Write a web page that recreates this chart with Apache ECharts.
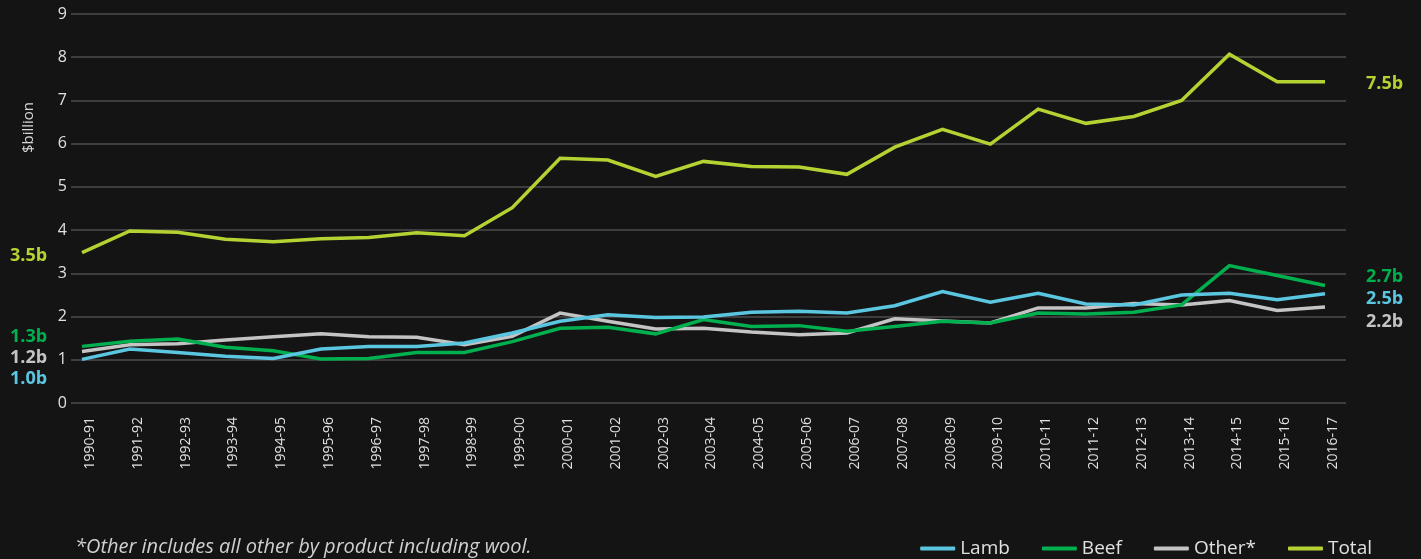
<!DOCTYPE html>
<html><head><meta charset="utf-8">
<script src="https://cdn.jsdelivr.net/npm/echarts@6/dist/echarts.min.js"></script>
<style>html,body{margin:0;padding:0;background:#141414;}#c{width:1421px;height:559px;}</style>
</head><body><div id="c"></div>
<script>
const categories = ['1990-91','1991-92','1992-93','1993-94','1994-95','1995-96','1996-97','1997-98','1998-99','1999-00','2000-01','2001-02','2002-03','2003-04','2004-05','2005-06','2006-07','2007-08','2008-09','2009-10','2010-11','2011-12','2012-13','2013-14','2014-15','2015-16','2016-17'];
const lamb  = [1.01,1.25,1.17,1.08,1.03,1.25,1.31,1.31,1.39,1.62,1.89,2.04,1.98,1.99,2.10,2.12,2.08,2.25,2.58,2.33,2.54,2.29,2.27,2.50,2.54,2.39,2.53];
const beef  = [1.31,1.43,1.48,1.29,1.21,1.02,1.03,1.17,1.17,1.42,1.73,1.75,1.60,1.93,1.77,1.79,1.66,1.77,1.89,1.85,2.08,2.06,2.10,2.27,3.18,2.95,2.72];
const other = [1.19,1.35,1.37,1.46,1.53,1.60,1.53,1.52,1.35,1.54,2.08,1.89,1.71,1.73,1.64,1.58,1.62,1.95,1.90,1.85,2.20,2.20,2.30,2.27,2.37,2.14,2.22];
const total = [3.48,3.98,3.95,3.79,3.73,3.80,3.83,3.94,3.87,4.52,5.66,5.62,5.24,5.59,5.47,5.46,5.29,5.92,6.33,5.99,6.80,6.47,6.63,7.00,8.07,7.43,7.43];
const yTicks = [0,1,2,3,4,5,6,7,8,9];
const startLabels = [{t:'3.5b',c:'#b5d233',y:254},{t:'1.3b',c:'#00b04f',y:335},{t:'1.2b',c:'#c4c4c4',y:356},{t:'1.0b',c:'#5bc6e0',y:377}];
const endLabels = [{t:'7.5b',c:'#b5d233',y:82},{t:'2.7b',c:'#00b04f',y:275},{t:'2.5b',c:'#5bc6e0',y:297},{t:'2.2b',c:'#c4c4c4',y:320}];

const FONT = '"Open Sans", sans-serif';
const colors = {Lamb:'#5bc6e0', Beef:'#00b04f', 'Other*':'#c4c4c4', Total:'#b5d233'};
const chart = echarts.init(document.getElementById('c'));
function line(name, data){
  return {name, type:'line', data, xAxisIndex:0, yAxisIndex:0, symbol:'none',
    lineStyle:{width:3.5, color:colors[name], cap:'butt', join:'miter'}, itemStyle:{color:colors[name]}};
}
const graphics = [];
startLabels.forEach(l=>graphics.push({type:'text', left:10, top:l.y-7, style:{text:l.t, fill:l.c, font:'bold 18px '+FONT}}));
endLabels.forEach(l=>graphics.push({type:'text', left:1366, top:l.y-7, style:{text:l.t, fill:l.c, font:'bold 18px '+FONT}}));
graphics.push({type:'text', left:21, top:102, rotation:Math.PI/2, style:{text:'$billion', fill:'#d8d8d8', font:'15px '+FONT}});
graphics.push({type:'text', left:75, top:537, style:{text:'*Other includes all other by product including wool.', fill:'#d0d0d0', font:'italic 20px '+FONT}});

chart.setOption({
  backgroundColor:'#141414',
  animation:false,
  grid:[{left:82, right:96, top:14, bottom:156},{left:71, right:75, top:14, bottom:156}],
  xAxis:[
    {type:'category', gridIndex:0, data:categories, boundaryGap:false,
     axisLine:{show:false}, axisTick:{show:false}, splitLine:{show:false},
     axisLabel:{rotate:90, interval:0, margin:14, color:'#e0e0e0', fontSize:14, fontFamily:FONT,
       verticalAlign:'top', lineHeight:16}},
    {type:'value', gridIndex:1, show:false, min:0, max:1}
  ],
  yAxis:[
    {type:'value', gridIndex:0, min:yTicks[0], max:yTicks[yTicks.length-1], interval:1, show:false},
    {type:'value', gridIndex:1, min:yTicks[0], max:yTicks[yTicks.length-1], interval:1,
     axisLine:{show:false}, axisTick:{show:false},
     splitLine:{lineStyle:{color:'#4d4d4d', width:1.5}},
     axisLabel:{margin:4, color:'#e0e0e0', fontSize:16, fontFamily:FONT}}
  ],
  legend:{right:44, top:534, icon:'roundRect', itemWidth:35, itemHeight:4, itemGap:32,
    textStyle:{color:'#e0e0e0', fontSize:19, fontFamily:FONT},
    data:['Lamb','Beef','Other*','Total']},
  series:[line('Total', total), line('Other*', other), line('Beef', beef), line('Lamb', lamb)],
  graphic:graphics
});
</script></body></html>
